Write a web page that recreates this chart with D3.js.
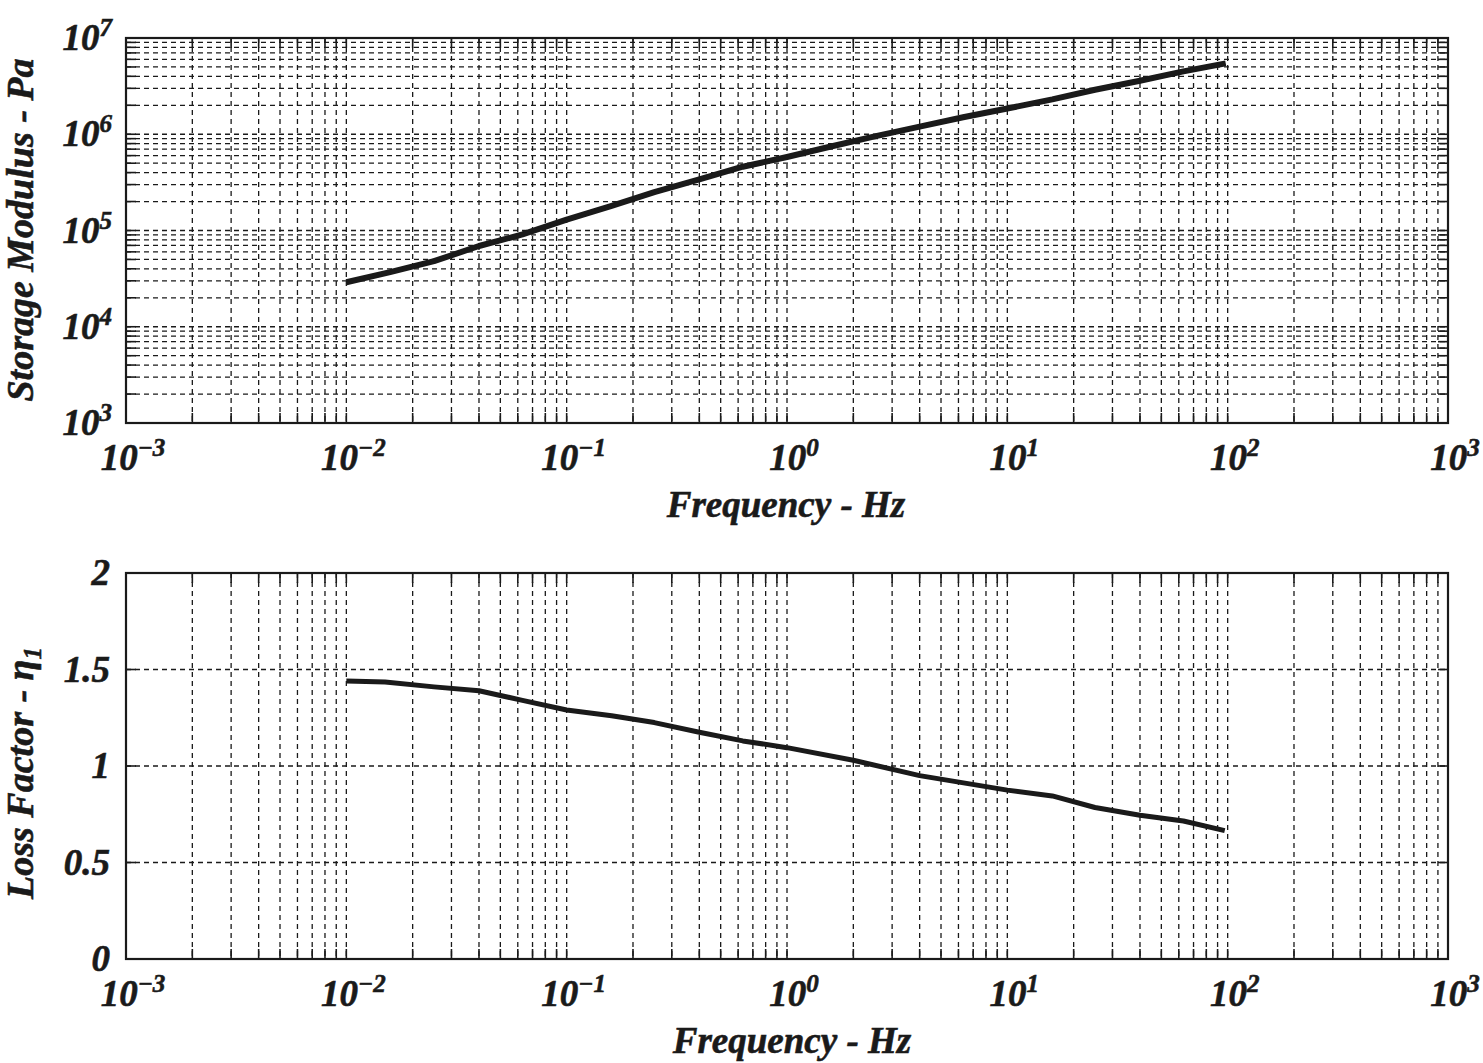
<!DOCTYPE html>
<html>
<head>
<meta charset="utf-8">
<script src="https://cdn.jsdelivr.net/npm/d3@7"></script>
<style>
  body { margin: 0; background: #fff; }
  svg { display: block; }
  text { font-family: "Liberation Serif", "Times New Roman", serif; font-weight: bold; font-style: italic; fill: #1a1a1a; stroke: #1a1a1a; stroke-width: 0.6px; }
</style>
</head>
<body>
<svg id="chart" width="1483" height="1063"></svg>
<script>
// ---- data ----
const xExponents = [-3, -2, -1, 0, 1, 2, 3];
const yTopExponents = [3, 4, 5, 6, 7];
const yBottomTicks = [0, 0.5, 1, 1.5, 2];
const yBottomLabels = ["0", "0.5", "1", "1.5", "2"];

const storageFreq = [0.01, 0.0158, 0.025, 0.04, 0.063, 0.1, 0.16, 0.25, 0.4, 0.63, 1, 1.6, 2.5, 4, 6.3, 10, 16, 25, 40, 63, 98];
const storageModulus = [2.9e4, 3.7e4, 4.8e4, 6.9e4, 9.1e4, 1.3e5, 1.8e5, 2.5e5, 3.4e5, 4.6e5, 5.8e5, 7.5e5, 9.5e5, 1.2e6, 1.5e6, 1.85e6, 2.3e6, 2.9e6, 3.6e6, 4.5e6, 5.45e6];

const lossFreq = [0.01, 0.015, 0.025, 0.04, 0.063, 0.1, 0.16, 0.25, 0.4, 0.63, 1, 2, 4, 10, 16, 25, 40, 63, 97];
const lossFactor = [1.44, 1.435, 1.41, 1.39, 1.34, 1.29, 1.26, 1.225, 1.175, 1.13, 1.095, 1.03, 0.95, 0.875, 0.845, 0.785, 0.745, 0.715, 0.665];

const xTitle = "Frequency - Hz";
const yTopTitle = "Storage Modulus - Pa";

// ---- layout ----
const svg = d3.select("#chart");
const L = 126, R = 1448;
const top1 = 38, bot1 = 423;
const top2 = 573, bot2 = 959;
const ink = "#1a1a1a";

const x = d3.scaleLog().domain([1e-3, 1e3]).range([L, R]);
const yTop = d3.scaleLog().domain([1e3, 1e7]).range([bot1, top1]);
const yBot = d3.scaleLinear().domain([0, 2]).range([bot2, top2]);

const xGrid = x.ticks();
const yTopGrid = yTop.ticks();

function drawPanel(g, yScale, yGrid, yT, yB) {
  const xt = xGrid.filter(v => v > 1e-3 && v < 1e3);
  const yt = yGrid.filter(v => yScale(v) > yT + 0.5 && yScale(v) < yB - 0.5);
  // vertical grid
  g.selectAll(".vg").data(xt).join("line")
    .attr("x1", d => x(d)).attr("x2", d => x(d))
    .attr("y1", yT).attr("y2", yB)
    .attr("stroke", ink).attr("stroke-width", 1.3).attr("stroke-dasharray", "5,4");
  // horizontal grid
  g.selectAll(".hg").data(yt).join("line")
    .attr("x1", L).attr("x2", R)
    .attr("y1", d => yScale(d)).attr("y2", d => yScale(d))
    .attr("stroke", ink).attr("stroke-width", 1.3).attr("stroke-dasharray", "5,4");
  // ticks (inward, solid) on all sides
  const tl = 10;
  g.selectAll(".xtb").data(xt).join("line")
    .attr("x1", d => x(d)).attr("x2", d => x(d)).attr("y1", yB).attr("y2", yB - tl)
    .attr("stroke", ink).attr("stroke-width", 1.6);
  g.selectAll(".xtt").data(xt).join("line")
    .attr("x1", d => x(d)).attr("x2", d => x(d)).attr("y1", yT).attr("y2", yT + tl)
    .attr("stroke", ink).attr("stroke-width", 1.6);
  g.selectAll(".ytl").data(yt).join("line")
    .attr("x1", L).attr("x2", L + tl).attr("y1", d => yScale(d)).attr("y2", d => yScale(d))
    .attr("stroke", ink).attr("stroke-width", 1.6);
  g.selectAll(".ytr").data(yt).join("line")
    .attr("x1", R).attr("x2", R - tl).attr("y1", d => yScale(d)).attr("y2", d => yScale(d))
    .attr("stroke", ink).attr("stroke-width", 1.6);
  // frame
  g.append("rect").attr("x", L).attr("y", yT).attr("width", R - L).attr("height", yB - yT)
    .attr("fill", "none").attr("stroke", ink).attr("stroke-width", 2.2);
}

function xLabels(g, yB) {
  xExponents.forEach(e => {
    const t = g.append("text")
      .attr("x", x(Math.pow(10, e)) + 7).attr("y", yB + 47)
      .attr("text-anchor", "middle").attr("font-size", 37);
    t.append("tspan").text("10");
    t.append("tspan").attr("dy", -14).attr("font-size", 25).text(e < 0 ? "\u2212" + Math.abs(e) : String(e));
  });
}

// ---- top panel ----
const g1 = svg.append("g");
drawPanel(g1, yTop, yTopGrid, top1, bot1);
xLabels(g1, bot1);
yTopExponents.forEach(e => {
  const t = g1.append("text")
    .attr("x", 112).attr("y", yTop(Math.pow(10, e)) + 12)
    .attr("text-anchor", "end").attr("font-size", 37);
  t.append("tspan").text("10");
  t.append("tspan").attr("dy", -14).attr("font-size", 25).text(String(e));
});
g1.append("path")
  .datum(storageFreq.map((f, i) => [f, storageModulus[i]]))
  .attr("d", d3.line().x(d => x(d[0])).y(d => yTop(d[1])))
  .attr("fill", "none").attr("stroke", ink).attr("stroke-width", 6).attr("stroke-linejoin", "round");
g1.append("text").attr("x", 786).attr("y", 517).attr("text-anchor", "middle").attr("font-size", 37).text(xTitle);
g1.append("text").attr("transform", "translate(33,230) rotate(-90)")
  .attr("text-anchor", "middle").attr("font-size", 38).text(yTopTitle);

// ---- bottom panel ----
const g2 = svg.append("g");
drawPanel(g2, yBot, yBottomTicks, top2, bot2);
xLabels(g2, bot2);
yBottomTicks.forEach((v, i) => {
  g2.append("text").attr("x", 110).attr("y", yBot(v) + 12)
    .attr("text-anchor", "end").attr("font-size", 37).text(yBottomLabels[i]);
});
g2.append("path")
  .datum(lossFreq.map((f, i) => [f, lossFactor[i]]))
  .attr("d", d3.line().x(d => x(d[0])).y(d => yBot(d[1])))
  .attr("fill", "none").attr("stroke", ink).attr("stroke-width", 5).attr("stroke-linejoin", "round");
g2.append("text").attr("x", 792).attr("y", 1053).attr("text-anchor", "middle").attr("font-size", 37).text(xTitle);
const yl = g2.append("text").attr("transform", "translate(33,773) rotate(-90)")
  .attr("text-anchor", "middle").attr("font-size", 38);
yl.append("tspan").text("Loss Factor - \u03B7");
yl.append("tspan").attr("dy", 8).attr("font-size", 25).text("1");
</script>
</body>
</html>
